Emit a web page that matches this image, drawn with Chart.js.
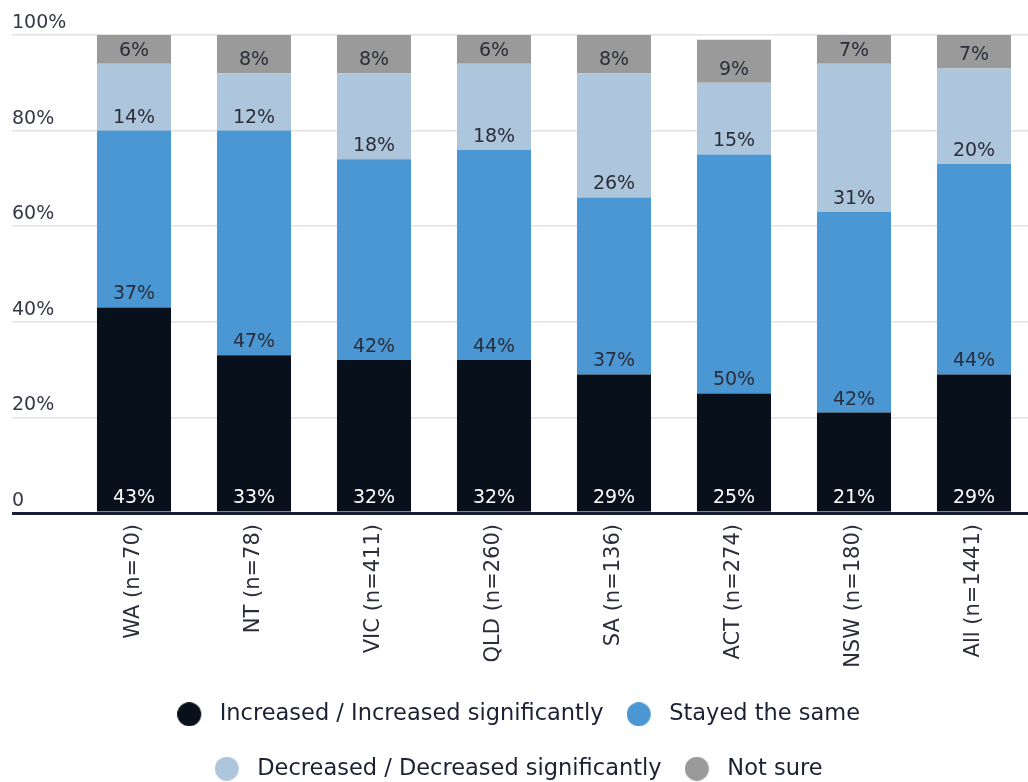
<!DOCTYPE html>
<html>
<head>
<meta charset="utf-8">
<title>Change by state</title>
<script src="https://cdn.jsdelivr.net/npm/chart.js@4.4.1/dist/chart.umd.min.js"></script>
<style>
  html, body { margin: 0; padding: 0; background: #fff; overflow: hidden; }
  canvas { display: block; }
</style>
</head>
<body>
<canvas id="stateChart" width="1040" height="790"></canvas>
<script>
// Survey responses per state (percent of respondents)
const STATES = ['WA (n=70)', 'NT (n=78)', 'VIC (n=411)', 'QLD (n=260)', 'SA (n=136)', 'ACT (n=274)', 'NSW (n=180)', 'All (n=1441)'];
const INCREASED = [43, 33, 32, 32, 29, 25, 21, 29];
const SAME = [37, 47, 42, 44, 37, 50, 42, 44];
const DECREASED = [14, 12, 18, 18, 26, 15, 31, 20];
const NOT_SURE = [6, 8, 8, 6, 8, 9, 7, 7];
const SERIES_NAMES = ['Increased / Increased significantly', 'Stayed the same', 'Decreased / Decreased significantly', 'Not sure'];
const SERIES_COLORS = ['#07101b', '#4a97d3', '#aec6dc', '#9a9a9a'];

const FONT = '"DejaVu Sans", sans-serif';
const TEXT_DARK = '#2b2e3a';

// round legend dot, shifted left inside its image so the text sits further away
function makeDot(color) {
    const c = document.createElement('canvas');
    c.width = 40;
    c.height = 24;
    const g = c.getContext('2d');
    g.fillStyle = color;
    g.beginPath();
    g.arc(12, 12, 12, 0, Math.PI * 2);
    g.fill();
    return c;
}
const dots = SERIES_COLORS.map(makeDot);

// percentage written at the bottom of each stacked segment
const segmentLabels = {
    id: 'segmentLabels',
    afterDatasetsDraw(chart) {
        const ctx = chart.ctx;
        ctx.save();
        ctx.font = '19px ' + FONT;
        ctx.textAlign = 'center';
        ctx.textBaseline = 'middle';
        chart.data.datasets.forEach((ds, i) => {
            const meta = chart.getDatasetMeta(i);
            meta.data.forEach((bar, j) => {
                ctx.fillStyle = i === 0 ? '#ffffff' : TEXT_DARK;
                ctx.fillText(ds.data[j] + '%', bar.x, bar.base - 13);
            });
        });
        ctx.restore();
    }
};

const seriesData = [INCREASED, SAME, DECREASED, NOT_SURE];

new Chart(document.getElementById('stateChart'), {
    type: 'bar',
    data: {
        labels: STATES,
        datasets: seriesData.map((values, i) => ({
            label: SERIES_NAMES[i],
            data: values,
            backgroundColor: SERIES_COLORS[i],
            borderWidth: 0,
            barPercentage: 0.617,
            categoryPercentage: 1,
            clip: 0
        }))
    },
    options: {
        responsive: false,
        animation: false,
        layout: { padding: { top: 35, left: 12, right: 6, bottom: 0 } },
        scales: {
            x: {
                stacked: true,
                grid: { display: false },
                border: { display: false },
                ticks: {
                    autoSkip: false,
                    minRotation: 90,
                    maxRotation: 90,
                    padding: 3,
                    color: TEXT_DARK,
                    font: { family: FONT, size: 21 }
                },
                afterFit: (s) => { s.height = 158; }
            },
            y: {
                stacked: true,
                min: 0,
                max: 100,
                border: { display: false },
                grid: {
                    drawTicks: true,
                    tickLength: 62,
                    color: (c) => c.tick && c.tick.value === 0 ? '#161e32' : '#e2e2e2',
                    lineWidth: (c) => c.tick && c.tick.value === 0 ? 3 : 1.5
                },
                ticks: {
                    stepSize: 20,
                    crossAlign: 'far',
                    labelOffset: -12,
                    padding: 0,
                    color: '#353845',
                    font: { family: FONT, size: 19 },
                    callback: (v) => v === 0 ? '0' : v + '%'
                },
                afterFit: (s) => { s.width = 62; }
            }
        },
        plugins: {
            tooltip: { enabled: false },
            legend: {
                position: 'bottom',
                labels: {
                    usePointStyle: true,
                    padding: 32,
                    color: '#1c2033',
                    font: { family: FONT, size: 22.5 },
                    generateLabels(chart) {
                        const items = Chart.defaults.plugins.legend.labels.generateLabels(chart);
                        items.forEach((it, i) => { it.pointStyle = dots[i]; });
                        return items;
                    }
                }
            }
        }
    },
    plugins: [segmentLabels]
});
</script>
</body>
</html>
